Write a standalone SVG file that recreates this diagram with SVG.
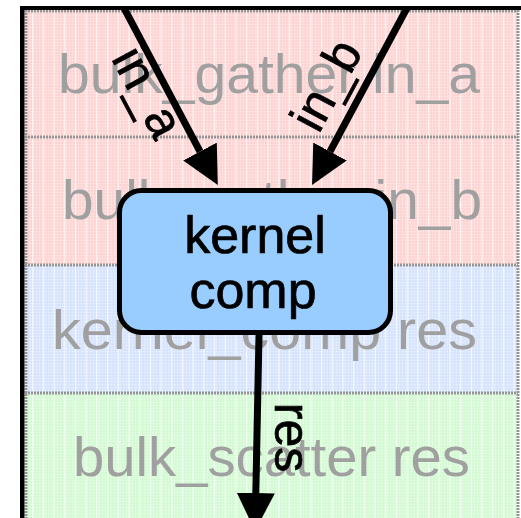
<svg xmlns="http://www.w3.org/2000/svg" width="521" height="518" viewBox="0 0 521 518">
  <style>
    .swim { font-family: "Liberation Sans", Arial, sans-serif; font-size: 55px; fill: #a0a0a0; text-anchor: middle; }
    .sep { stroke: #959595; stroke-width: 3; stroke-dasharray: 2 1; }
    .node { fill: #99ccff; stroke: #000; stroke-width: 5; }
    .ntext { font-family: "Liberation Sans", Arial, sans-serif; font-size: 52px; fill: #000; stroke: #000; stroke-width: 0.7; text-anchor: middle; }
    .edge { stroke: #000; stroke-width: 7; fill: none; marker-end: url(#head); }
    .elabel { font-family: "Liberation Sans", Arial, sans-serif; font-size: 50px; fill: #000; stroke: #000; stroke-width: 0.7; text-anchor: middle; }
  </style>
  <defs>
    <!-- light vertical streaks over the lane fills -->
    <pattern id="streaks" width="10.7" height="4" patternUnits="userSpaceOnUse">
      <rect x="0" y="0" width="1.2" height="4" fill="#ffffff" opacity="0.75"/>
    </pattern>
    <!-- fine halftone grain -->
    <pattern id="grain" width="3" height="3" patternUnits="userSpaceOnUse">
      <rect x="0" y="0" width="1" height="1" fill="#ffffff" opacity="0.45"/>
      <rect x="1.5" y="1.5" width="1" height="1" fill="#000000" opacity="0.04"/>
    </pattern>
    <marker id="head" viewBox="0 0 38 38" markerWidth="38" markerHeight="38" markerUnits="userSpaceOnUse" refX="0" refY="19" orient="auto">
      <path d="M0,0 L38,19 L0,38 z" fill="#000"/>
    </marker>
  </defs>

  <rect width="521" height="518" fill="#ffffff"/>

  <!-- swimlanes -->
  <g id="lanes">
    <rect x="25" y="10" width="493" height="127" fill="#ffd8d8"/>
    <rect x="25" y="137" width="493" height="128" fill="#ffd8d8"/>
    <rect x="25" y="265" width="493" height="128" fill="#dae7ff"/>
    <rect x="25" y="393" width="493" height="125" fill="#d7fcd7"/>
    <rect x="25" y="10" width="493" height="508" fill="url(#streaks)"/>
    <rect x="25" y="10" width="493" height="508" fill="url(#grain)"/>
    <line class="sep" x1="25" y1="137" x2="518" y2="137"/>
    <line class="sep" x1="25" y1="265" x2="518" y2="265"/>
    <line class="sep" x1="25" y1="393" x2="518" y2="393"/>
    <line class="sep" x1="25" y1="11" x2="518" y2="11"/>
    <line class="sep" x1="26" y1="10" x2="26" y2="518"/>
    <line class="sep" x1="518" y1="10" x2="518" y2="518"/>
    <text class="swim" x="269" y="93" textLength="422" lengthAdjust="spacingAndGlyphs">bulk_gather in_a</text>
    <text class="swim" x="272" y="219" textLength="420" lengthAdjust="spacingAndGlyphs">bulk_gather in_b</text>
    <text class="swim" x="264.5" y="349" textLength="425" lengthAdjust="spacingAndGlyphs">kernel_comp res</text>
    <text class="swim" x="271.5" y="476" textLength="397" lengthAdjust="spacingAndGlyphs">bulk_scatter res</text>
  </g>

  <!-- outer frame -->
  <g id="frame" fill="#000">
    <rect x="20" y="6" width="501" height="4"/>
    <rect x="20" y="6" width="4.5" height="512"/>
  </g>

  <!-- node -->
  <g id="kernel-comp">
    <rect class="node" x="119.5" y="190.5" width="271" height="142" rx="22" ry="22"/>
    <text class="ntext" x="255" y="253">kernel</text>
    <text class="ntext" x="253" y="308">comp</text>
  </g>

  <!-- connectors -->
  <g id="connectors">
    <line class="edge" x1="124" y1="8" x2="200" y2="151.5"/>
    <text class="elabel" transform="translate(133,100) rotate(61.9)">in_a</text>
    <line class="edge" x1="407" y1="8" x2="330" y2="151.5"/>
    <text class="elabel" transform="translate(341,93) rotate(-61.8)">in_b</text>
    <line class="edge" x1="259" y1="335" x2="255.8" y2="493"/>
    <text class="elabel" transform="translate(275,437.5) rotate(90)">res</text>
  </g>
</svg>
